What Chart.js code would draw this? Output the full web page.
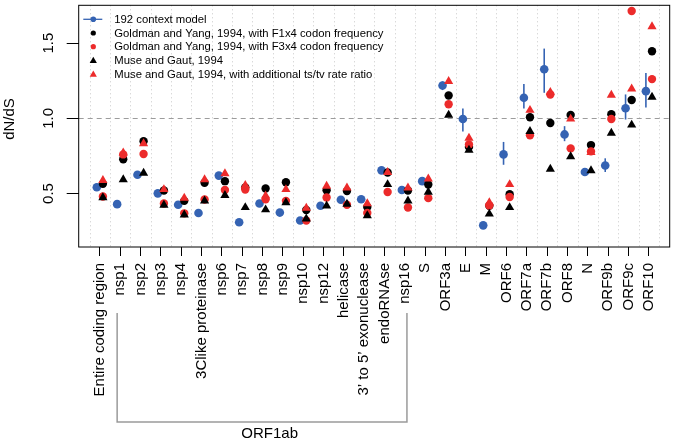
<!DOCTYPE html>
<html>
<head>
<meta charset="utf-8">
<script src="https://cdn.jsdelivr.net/npm/chart.js@4.4.1/dist/chart.umd.min.js"></script>
<style>
  html, body { margin: 0; padding: 0; background: #fff; }
  #wrap { width: 675px; height: 441px; }
</style>
</head>
<body>
<div id="wrap"><canvas id="dnds" width="675" height="441"></canvas></div>
<script>
// categories along the genome
const cats = ['Entire coding region', 'nsp1', 'nsp2', 'nsp3', 'nsp4', '3Clike proteinase', 'nsp6', 'nsp7',
    'nsp8', 'nsp9', 'nsp10', 'nsp12', 'helicase', '3\u2019 to 5\u2019 exonuclease', 'endoRNAse', 'nsp16', 'S',
    'ORF3a', 'E', 'M', 'ORF6', 'ORF7a', 'ORF7b', 'ORF8', 'N', 'ORF9b', 'ORF9c', 'ORF10'];

// dN/dS estimates
const context192 = [0.542, 0.429, 0.625, 0.501, 0.425, 0.370, 0.619, 0.309, 0.433, 0.373, 0.320, 0.418, 0.458, 0.462,
    0.654, 0.523, 0.582, 1.218, 0.996, 0.288, 0.760, 1.137, 1.327, 0.893, 0.643, 0.686, 1.067, 1.181];
// error bar ends for the 192 context model (null = too small to see)
const context192Low = [null, null, null, null, null, null, null, null, null, null, null, null, null, null,
    null, null, null, 1.188, 0.913, null, 0.691, 1.065, 1.170, 0.848, null, 0.643, 0.992, 1.072];
const context192High = [null, null, null, null, null, null, null, null, null, null, null, null, null, null,
    null, null, null, 1.246, 1.065, null, 0.843, 1.229, 1.464, 0.948, null, 0.734, 1.159, 1.301];
const gyF1x4 = [0.564, 0.728, 0.848, 0.520, 0.451, 0.571, 0.582, 0.540, 0.533, 0.575, 0.390, 0.521, 0.516, 0.410,
    0.640, 0.520, 0.560, 1.152, 0.810, 0.418, 0.495, 1.007, 0.969, 1.022, 0.822, 1.028, 1.122, 1.446];
const gyF3x4 = [0.480, 0.760, 0.763, 0.433, 0.368, 0.460, 0.523, 0.527, 0.462, 0.451, 0.320, 0.473, 0.425, 0.370,
    0.510, 0.407, 0.469, 1.094, 0.826, 0.420, 0.477, 0.887, 1.159, 0.800, 0.780, 0.996, 1.714, 1.261];
const museGaut = [0.473, 0.593, 0.636, 0.423, 0.358, 0.451, 0.488, 0.407, 0.392, 0.440, 0.331, 0.418, 0.429, 0.353,
    0.560, 0.451, 0.510, 1.022, 0.789, 0.364, 0.407, 0.913, 0.662, 0.745, 0.652, 0.902, 0.956, 1.142];
const museGautTsTv = [0.588, 0.771, 0.832, 0.527, 0.469, 0.593, 0.632, 0.554, 0.484, 0.527, 0.403, 0.549, 0.538, 0.433,
    0.641, 0.538, 0.597, 1.246, 0.869, 0.440, 0.560, 1.054, 1.174, 0.996, 0.773, 1.155, 1.196, 1.610];

const seriesLabels = ['192 context model',
    'Goldman and Yang, 1994, with F1x4 codon frequency',
    'Goldman and Yang, 1994, with F3x4 codon frequency',
    'Muse and Gaut, 1994',
    'Muse and Gaut, 1994, with additional ts/tv rate ratio'];
const yTicks = [0.5, 1.0, 1.5];
const refLine = 1.0;
const groupLabel = 'ORF1ab';

const BLUE = '#3563b3';
const RED = '#ec2b2b';
const FONT = '"Liberation Sans", Arial, sans-serif';
const shift = 0.15; // blue sits left of the tick, the other models right

function pts(values, dx) {
    return values.map((v, i) => ({ x: i + dx, y: v }));
}

// grid, reference line, error bars, frame, labels, bracket and legend
const decorPlugin = {
    id: 'decor',
    beforeDatasetsDraw(chart) {
        const { ctx, chartArea: a, scales: { x, y } } = chart;
        ctx.save();
        ctx.lineWidth = 1;
        ctx.strokeStyle = '#c9c9c9';
        ctx.setLineDash([1, 3]);
        for (let i = -1; i < cats.length; i++) {
            const px = Math.round(x.getPixelForValue(i + 0.5)) + 0.5;
            ctx.beginPath(); ctx.moveTo(px, a.top); ctx.lineTo(px, a.bottom); ctx.stroke();
        }
        ctx.strokeStyle = '#9c9c9c';
        ctx.setLineDash([5, 4]);
        const py = Math.round(y.getPixelForValue(refLine)) + 0.5;
        ctx.beginPath(); ctx.moveTo(a.left, py); ctx.lineTo(a.right, py); ctx.stroke();

        ctx.setLineDash([]);
        ctx.strokeStyle = BLUE;
        ctx.lineWidth = 1.6;
        context192Low.forEach((lo, i) => {
            if (lo == null) return;
            const px = x.getPixelForValue(i - shift);
            ctx.beginPath();
            ctx.moveTo(px, y.getPixelForValue(lo));
            ctx.lineTo(px, y.getPixelForValue(context192High[i]));
            ctx.stroke();
        });
        ctx.restore();
    },
    afterDraw(chart) {
        const { ctx, chartArea: a, scales: { x, y } } = chart;
        ctx.save();
        // box round the plot
        ctx.strokeStyle = '#000';
        ctx.lineWidth = 1;
        ctx.strokeRect(a.left, a.top, a.right - a.left, a.bottom - a.top);

        // y tick labels, parallel to the axis
        ctx.fillStyle = '#000';
        ctx.font = '15px ' + FONT;
        ctx.textAlign = 'center';
        ctx.textBaseline = 'middle';
        yTicks.forEach(t => {
            ctx.save();
            ctx.translate(a.left - 30, y.getPixelForValue(t));
            ctx.rotate(-Math.PI / 2);
            ctx.fillText(t.toFixed(1), 0, 0);
            ctx.restore();
        });
        ctx.save();
        ctx.translate(10, 119);
        ctx.rotate(-Math.PI / 2);
        ctx.fillText('dN/dS', 0, 0);
        ctx.restore();

        // bracket under the ORF1ab genes
        const bl = x.getPixelForValue(1 - shift), br = x.getPixelForValue(15 + 0.1);
        ctx.strokeStyle = '#9a9a9a';
        ctx.lineWidth = 1.5;
        ctx.beginPath();
        ctx.moveTo(bl, 313); ctx.lineTo(bl, 422); ctx.lineTo(br, 422); ctx.lineTo(br, 313);
        ctx.stroke();
        ctx.fillStyle = '#000';
        ctx.fillText(groupLabel, x.getPixelForValue(8.35), 434);

        // legend, top left inside the box
        ctx.font = '11.3px ' + FONT;
        ctx.textAlign = 'left';
        const lx = a.left + 14.6, tx = a.left + 35.6;
        seriesLabels.forEach((lab, k) => {
            const ly = 19.3 + k * 13.7;
            const ds = chart.data.datasets[k];
            ctx.fillStyle = ds.backgroundColor;
            if (k === 0) {
                ctx.strokeStyle = BLUE; ctx.lineWidth = 1.3;
                ctx.beginPath(); ctx.moveTo(lx - 10, ly); ctx.lineTo(lx + 9, ly); ctx.stroke();
                ctx.beginPath(); ctx.arc(lx, ly, 2.8, 0, Math.PI * 2); ctx.fill();
            } else if (ds.pointStyle === 'circle') {
                ctx.beginPath(); ctx.arc(lx, ly, 2.6, 0, Math.PI * 2); ctx.fill();
            } else {
                ctx.beginPath();
                ctx.moveTo(lx, ly - 3.6); ctx.lineTo(lx + 3.6, ly + 2.6); ctx.lineTo(lx - 3.6, ly + 2.6);
                ctx.closePath(); ctx.fill();
            }
            ctx.fillStyle = '#000';
            ctx.fillText(lab, tx, ly + 0.5);
        });
        ctx.restore();
    }
};

const ctx = document.getElementById('dnds').getContext('2d');
const dndsChart = new Chart(ctx, {
    type: 'scatter',
    data: {
        datasets: [
            { label: seriesLabels[0], data: pts(context192, -shift), backgroundColor: BLUE, pointStyle: 'circle', pointRadius: 4.3, order: 5 },
            { label: seriesLabels[1], data: pts(gyF1x4, shift), backgroundColor: '#000', pointStyle: 'circle', pointRadius: 4.2, order: 4 },
            { label: seriesLabels[2], data: pts(gyF3x4, shift), backgroundColor: RED, pointStyle: 'circle', pointRadius: 4.2, order: 3 },
            { label: seriesLabels[3], data: pts(museGaut, shift), backgroundColor: '#000', pointStyle: 'triangle', pointRadius: 5.3, order: 2 },
            { label: seriesLabels[4], data: pts(museGautTsTv, shift), backgroundColor: RED, pointStyle: 'triangle', pointRadius: 5.3, order: 1 }
        ]
    },
    options: {
        responsive: false,
        animation: false,
        devicePixelRatio: 1,
        layout: { padding: { top: 1, right: 2.3, left: 0, bottom: 0 } },
        elements: { point: { borderWidth: 0, hoverRadius: 0 } },
        plugins: { legend: { display: false }, tooltip: { enabled: false } },
        scales: {
            x: {
                type: 'linear',
                min: -1.04,
                max: 28.02,
                afterBuildTicks: axis => { axis.ticks = cats.map((c, i) => ({ value: i })); },
                afterFit: axis => { axis.height = 194; },
                border: { display: false },
                grid: { drawOnChartArea: false, drawTicks: true, tickLength: 9, color: '#000', lineWidth: 1 },
                ticks: {
                    autoSkip: false,
                    minRotation: 90,
                    maxRotation: 90,
                    padding: 7,
                    color: '#000',
                    font: { family: FONT, size: 15 },
                    callback: v => cats[v]
                }
            },
            y: {
                min: 0.144,
                max: 1.752,
                afterBuildTicks: axis => { axis.ticks = yTicks.map(v => ({ value: v })); },
                afterFit: axis => { axis.width = 78.7; },
                border: { display: false },
                grid: { drawOnChartArea: false, drawTicks: true, tickLength: 12, color: '#000', lineWidth: 1 },
                ticks: { display: false }
            }
        }
    },
    plugins: [decorPlugin]
});
</script>
</body>
</html>
